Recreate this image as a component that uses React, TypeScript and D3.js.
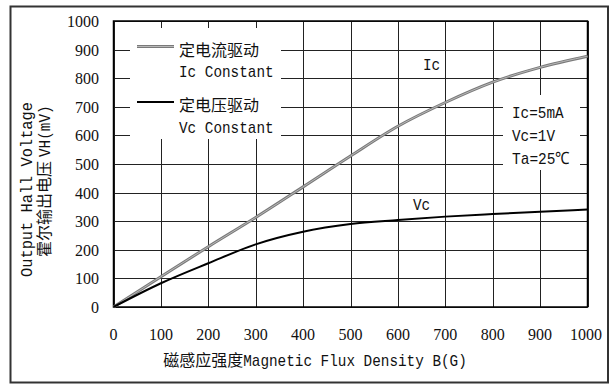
import React from "react";
import * as d3 from "d3";

const xTicks = [0, 100, 200, 300, 400, 500, 600, 700, 800, 900, 1000];
const yTicks = [0, 100, 200, 300, 400, 500, 600, 700, 800, 900, 1000];
const fluxB = [0, 100, 200, 300, 400, 500, 600, 700, 800, 900, 1000];
const icValues = [0, 106, 211, 313, 420, 528, 632, 715, 786, 838, 877];
const vcValues = [0, 83, 153, 219, 263, 290, 304, 316, 325, 333, 341];

const W = 612;
const H = 385;
const L = 113.5, R = 587.5, T = 21, B = 307;

const MONO = "'Liberation Mono', 'Courier New', 'DejaVu Sans Mono', monospace";
const CJK = "'Noto Sans CJK SC', sans-serif";
const SERIF = "'Liberation Serif', 'Times New Roman', 'DejaVu Serif', serif";
const INK = "#111";
const CW = 8.6; // latin char width

function Latin({ x, y, text, anchor = "start", size = 17, len }: any) {
  const tl = len ?? text.length * CW;
  let x0 = x;
  if (anchor === "middle") x0 = x - tl / 2;
  if (anchor === "end") x0 = x - tl;
  return (
    <text x={x0} y={y} style={{ fontFamily: MONO, fontSize: size }} fill={INK}
      textLength={tl} lengthAdjust="spacingAndGlyphs">{text}</text>
  );
}

function Num({ x, y, text, anchor }: any) {
  const len = String(text).length * 8;
  let x0 = x;
  if (anchor === "middle") x0 = x - len / 2;
  if (anchor === "end") x0 = x - len;
  return (
    <text x={x0} y={y} style={{ fontFamily: SERIF, fontSize: 17 }} fill={INK}
      textLength={len} lengthAdjust="spacingAndGlyphs">{text}</text>
  );
}

export default function App() {
  const x = d3.scaleLinear().domain([0, 1000]).range([L, R]);
  const y = d3.scaleLinear().domain([0, 1000]).range([B, T]);
  const px = (v: number) => Math.round(x(v)) + 0.5;
  const py = (v: number) => Math.round(y(v)) + 0.5;

  const line = d3.line<number>()
    .x((_, i) => x(fluxB[i]))
    .y((d) => y(d))
    .curve(d3.curveMonotoneX);
  const icPath = line(icValues) || "";
  const vcPath = line(vcValues) || "";

  const xTitleCjk = "磁感应强度";
  const xTitleLat = "Magnetic Flux Density B(G)";
  const xTitleW = xTitleCjk.length * 16 + xTitleLat.length * CW;
  const xTitleStart = 315 - xTitleW / 2;

  return (
    <svg width={W} height={H} style={{ position: "absolute", left: 0, top: 0, background: "#fff" }}>
      <rect x={0} y={0} width={W} height={H} fill="#fff" />
      <rect x={10.5} y={6.5} width={597.5} height={376} fill="none" stroke="#333" strokeWidth={2} />

      {/* grid */}
      {yTicks.map((t) => (
        <line key={"h" + t} x1={L} x2={R} y1={py(t)} y2={py(t)} stroke="#222" strokeWidth={1} />
      ))}
      {xTicks.map((t) => (
        <line key={"v" + t} x1={px(t)} x2={px(t)} y1={T} y2={B} stroke="#222" strokeWidth={1} />
      ))}

      {/* white boxes */}
      <rect x={130} y={28} width={151} height={111} fill="#fff" />
      <rect x={503} y={95} width={77} height={75} fill="#fff" />

      {/* plot border */}
      <rect x={L} y={T} width={R - L} height={B - T} fill="none" stroke="#000" strokeWidth={1.5} />

      {/* curves */}
      <path d={icPath} fill="none" stroke="#7a7a7a" strokeWidth={3} />
      <path d={icPath} fill="none" stroke="#b8b8b8" strokeWidth={1} />
      <path d={vcPath} fill="none" stroke="#000" strokeWidth={2} />

      {/* legend */}
      <line x1={137} x2={174} y1={46.5} y2={46.5} stroke="#7a7a7a" strokeWidth={3} />
      <line x1={137} x2={174} y1={46.5} y2={46.5} stroke="#b8b8b8" strokeWidth={1} />
      <text x={179} y={55.5} style={{ fontFamily: CJK, fontSize: 16 }} fill={INK}>定电流驱动</text>
      <Latin x={179} y={76.5} text="Ic Constant" />
      <line x1={137} x2={174} y1={102} y2={102} stroke="#000" strokeWidth={2} />
      <text x={179} y={111} style={{ fontFamily: CJK, fontSize: 16 }} fill={INK}>定电压驱动</text>
      <Latin x={179} y={132.5} text="Vc Constant" />

      {/* curve labels */}
      <Latin x={423} y={70} text="Ic" />
      <Latin x={413} y={210} text="Vc" />

      {/* conditions */}
      <Latin x={512} y={118} text="Ic=5mA" />
      <Latin x={512} y={141} text="Vc=1V" />
      <Latin x={512} y={164} text="Ta=25℃" len={58} />

      {/* y tick labels */}
      {yTicks.map((t) => (
        <Num key={"yl" + t} x={99} y={y(t) + 6} text={String(t)} anchor="end" />
      ))}
      {/* x tick labels */}
      {xTicks.map((t) => (
        <Num key={"xl" + t} x={Math.min(x(t), 586)} y={340} text={String(t)} anchor="middle" />
      ))}

      {/* x title */}
      <text x={xTitleStart} y={366} style={{ fontFamily: CJK, fontSize: 16 }} fill={INK}>{xTitleCjk}</text>
      <Latin x={xTitleStart + xTitleCjk.length * 16} y={366} text={xTitleLat} />

      {/* y title */}
      <g transform="translate(32,102) rotate(-90)">
        <text x={0} y={0} textAnchor="end" style={{ fontFamily: MONO, fontSize: 16 }} fill={INK}
          textLength={175} lengthAdjust="spacingAndGlyphs">Output Hall Voltage</text>
      </g>
      <g transform="translate(50,102) rotate(-90)">
        <text x={-155} y={0} style={{ fontFamily: CJK, fontSize: 16 }} fill={INK}>霍尔输出电压</text>
        <Latin x={-155 + 6 * 16 + 4} y={0} text="VH(mV)" size={17} />
      </g>
    </svg>
  );
}
